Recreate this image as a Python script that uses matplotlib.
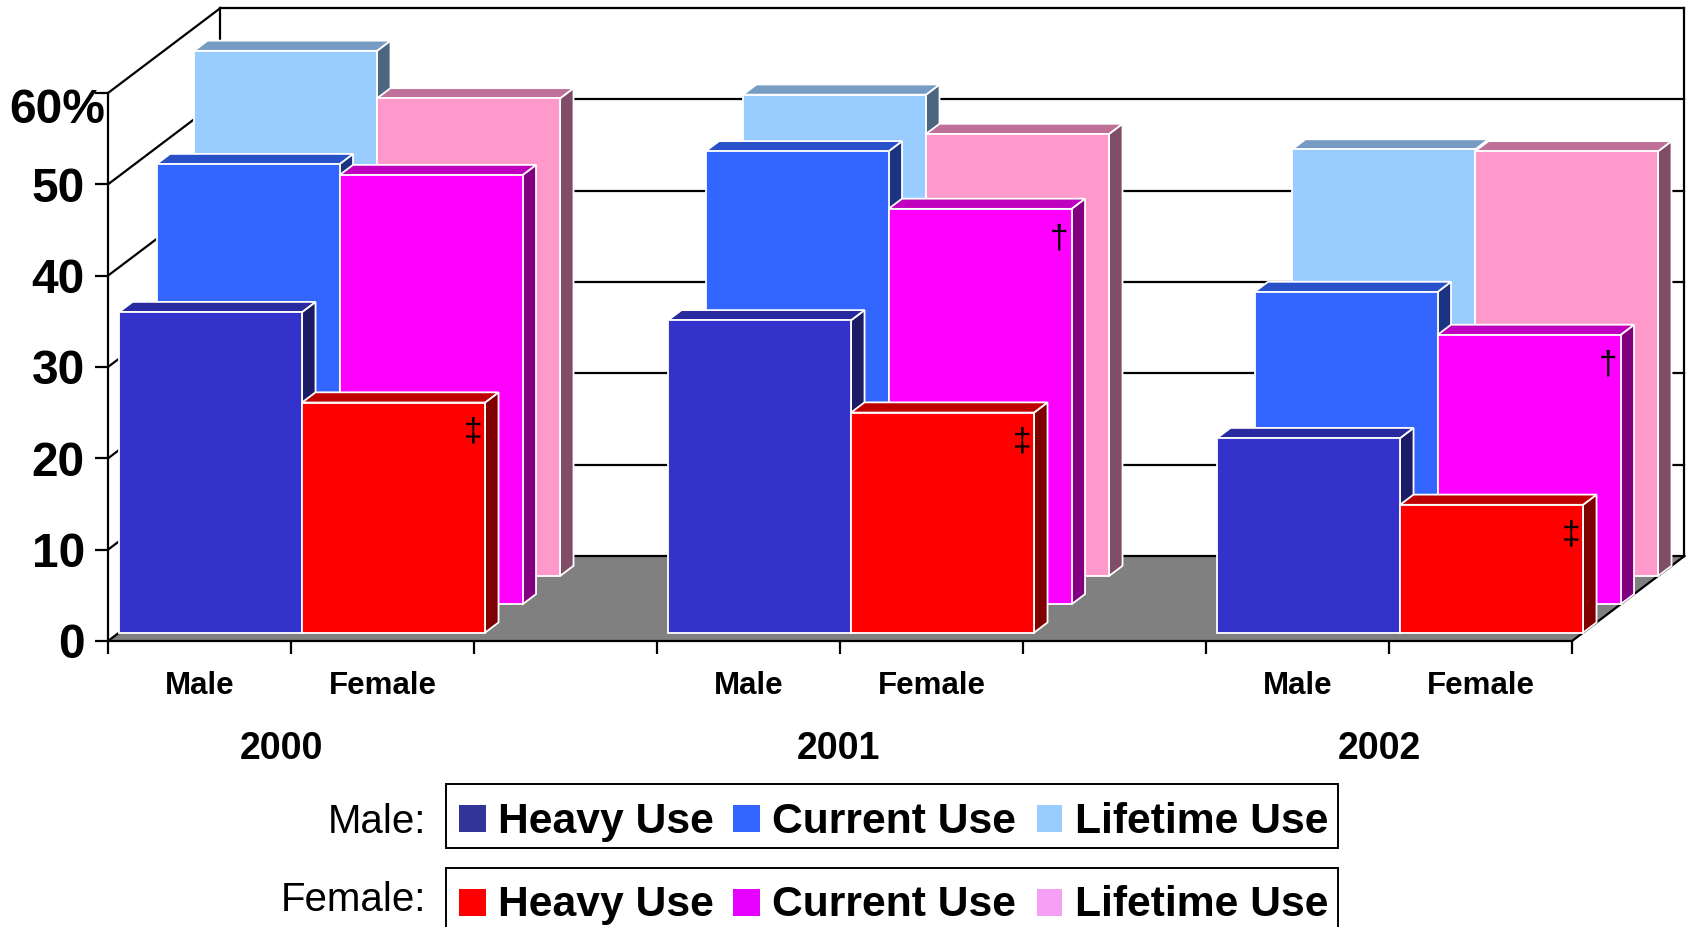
import matplotlib
matplotlib.use("Agg")
import matplotlib.pyplot as plt
from matplotlib.patches import Polygon, Rectangle

plt.rcParams['font.family'] = ['Liberation Sans', 'DejaVu Sans']

years = ["2000", "2001", "2002"]
year_label_x = [0.95, 3.99, 6.95]
category_labels = ["Male", "Female", "", "Male", "Female", "", "Male", "Female"]
y_ticks = [0, 10, 20, 30, 40, 50, 60]

male_heavy = [35.1, 34.2, 21.3]
male_current = [48.2, 49.6, 34.2]
male_lifetime = [57.5, 52.7, 46.7]
female_heavy = [25.2, 24.1, 14.0]
female_current = [47.0, 43.3, 29.5]
female_lifetime = [52.3, 48.4, 46.5]

# (front, side, top) colours
C_MH = ("#3333CC", "#1B1B66", "#2A2AA0")
C_MC = ("#3366FF", "#1B3380", "#2850C8")
C_ML = ("#99CCFF", "#4D6680", "#769CC4")
C_FH = ("#FF0000", "#800000", "#BF0000")
C_FC = ("#FF00FF", "#800080", "#BF00BF")
C_FL = ("#FF99CC", "#804D66", "#BF7099")

# significance marks: (group, series value list, layer, mark)
marks = [(0, female_heavy, 0, "‡"), (1, female_heavy, 0, "‡"), (2, female_heavy, 0, "‡"),
         (1, female_current, 1, "†"), (2, female_current, 1, "†")]

W, H = 1688, 927
fig = plt.figure(figsize=(W / 100, H / 100), dpi=100, facecolor="white")
L, R, T, B = 108, 1572, 93, 641
ax = fig.add_axes([L / W, 1 - B / H, (R - L) / W, (B - T) / H])
ax.set_xlim(0, 8)
ax.set_ylim(0, 60)
ax.patch.set_visible(False)

PX_X = (R - L) / 8
PX_Y = (B - T) / 60
DEPTH_X = 112.5 / PX_X   # full depth, in category units
DEPTH_Y = 85 / PX_Y      # full depth, in value units
LW = 1.6


def proj(x, y, d):
    return (x + d * DEPTH_X, y + d * DEPTH_Y)


def line(p, q, z=1):
    ax.plot([p[0], q[0]], [p[1], q[1]], color="black", lw=LW, clip_on=False,
            solid_capstyle="projecting", zorder=z)


# floor
ax.add_patch(Polygon([proj(0, 0, 0), proj(8, 0, 0), proj(8, 0, 1), proj(0, 0, 1)],
                     closed=True, fc="#808080", ec="none", clip_on=False, zorder=0.5))
line(proj(0, 0, 0), proj(0, 0, 1))
line(proj(8, 0, 0), proj(8, 0, 1))
line(proj(0, 0, 1), proj(8, 0, 1))
# walls and grid
line(proj(0, 0, 1), proj(0, 60, 1))
line(proj(8, 0, 1), proj(8, 60, 1))
for v in y_ticks[1:]:
    line(proj(0, v, 0), proj(0, v, 1))
    line(proj(0, v, 1), proj(8, v, 1))


def bar(x, value, layer, colors, z):
    d0 = 0.098 + layer / 3
    d1 = d0 + 0.12
    a, b = x, x + 1
    kw = dict(closed=True, ec="white", lw=1.3, clip_on=False, zorder=z, joinstyle="miter")
    ax.add_patch(Polygon([proj(b, 0, d0), proj(b, 0, d1), proj(b, value, d1), proj(b, value, d0)],
                         fc=colors[1], **kw))
    ax.add_patch(Polygon([proj(a, value, d0), proj(b, value, d0), proj(b, value, d1), proj(a, value, d1)],
                         fc=colors[2], **kw))
    ax.add_patch(Polygon([proj(a, 0, d0), proj(b, 0, d0), proj(b, value, d0), proj(a, value, d0)],
                         fc=colors[0], **kw))


series = [(2, male_lifetime, C_ML, female_lifetime, C_FL),
          (1, male_current, C_MC, female_current, C_FC),
          (0, male_heavy, C_MH, female_heavy, C_FH)]
z = 2
for layer, m_vals, m_col, f_vals, f_col in series:
    for g in range(len(years)):
        x0 = 3 * g
        bar(x0, m_vals[g], layer, m_col, z)
        z += 0.01
        bar(x0 + 1, f_vals[g], layer, f_col, z)
        z += 0.01
    z += 1

# significance marks
for g, vals, layer, mark in marks:
    x, y = proj(3 * g + 2, vals[g], 0.098 + layer / 3)
    ax.annotate(mark, (x, y), xytext=(-8.8, -21.5), textcoords="offset points",
                ha="center", va="center", fontsize=24, color="black", zorder=z + 1,
                annotation_clip=False)

# axes
for s in ("top", "right"):
    ax.spines[s].set_visible(False)
for s in ("left", "bottom"):
    ax.spines[s].set_linewidth(LW)
    ax.spines[s].set_zorder(1.5)
ax.set_yticks(y_ticks)
ax.set_yticklabels([str(v) for v in y_ticks[:-1]] + [""], fontsize=34.5, fontweight="bold")
ax.tick_params(axis="y", length=9.4, width=LW, pad=7.2)
ax.set_xticks(range(9))
ax.set_xticklabels([])
ax.tick_params(axis="x", which="major", length=9.7, width=LW)
ax.set_xticks([i + 0.5 for i in range(8)], minor=True)
ax.set_xticklabels(category_labels, minor=True, fontsize=22.5, fontweight="bold")
ax.tick_params(axis="x", which="minor", length=0, pad=21.5)
ax.annotate(f"{y_ticks[-1]}%", (0, y_ticks[-1]), xytext=(-2, -12.5), textcoords="offset points",
            ha="right", va="center", fontsize=34.5, fontweight="bold", annotation_clip=False)


def fx(x):
    return x / W


def fy(y):
    return 1 - y / H


for lab, xv in zip(years, year_label_x):
    fig.text(fx(L + xv * PX_X), fy(759), lab, ha="center", va="baseline",
             fontsize=27, fontweight="bold")

# legends
legend_names = ["Heavy Use", "Current Use", "Lifetime Use"]
legend_rows = [("Male:", ["#333399", "#3366FF", "#99CCFF"], 784, 848, 805, 833, 833),
               ("Female:", ["#FF0000", "#E600FF", "#F5A0F5"], 868, 940, 889, 916, 911)]
swatch_x = [(459, 486), (733, 760), (1037, 1062)]
text_x = [498, 772, 1075]
for name, cols, top, bot, s_top, base, name_base in legend_rows:
    fig.add_artist(Rectangle((fx(446), fy(bot)), fx(1338 - 446), (bot - top) / H,
                             transform=fig.transFigure, fc="white", ec="black", lw=1.4))
    fig.text(fx(426), fy(name_base), name, ha="right", va="baseline", fontsize=29)
    for col, (x0, x1), tx, lab in zip(cols, swatch_x, text_x, legend_names):
        fig.add_artist(Rectangle((fx(x0), fy(s_top + 27)), fx(x1 - x0), 27 / H,
                                 transform=fig.transFigure, fc=col, ec="none"))
        fig.text(fx(tx), fy(base), lab, ha="left", va="baseline", fontsize=30.7, fontweight="bold")

fig.savefig("out.png", dpi=100, facecolor="white")
